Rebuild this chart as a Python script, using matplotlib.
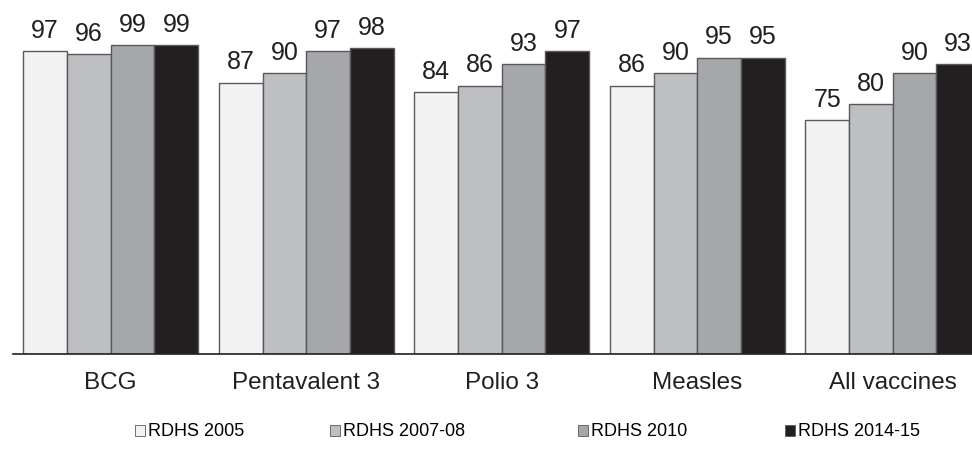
import matplotlib
matplotlib.use("Agg")
import matplotlib.pyplot as plt
import numpy as np
from matplotlib.patches import Patch

categories = ["BCG", "Pentavalent 3", "Polio 3", "Measles", "All vaccines"]
series_names = ["RDHS 2005", "RDHS 2007-08", "RDHS 2010", "RDHS 2014-15"]
rdhs_2005 = [97, 87, 84, 86, 75]
rdhs_2007 = [96, 90, 86, 90, 80]
rdhs_2010 = [99, 97, 93, 95, 90]
rdhs_2014 = [99, 98, 97, 95, 93]
series_values = [rdhs_2005, rdhs_2007, rdhs_2010, rdhs_2014]

colors = ["#F1F2F1", "#BEBFC2", "#A6A7AA", "#231F20"]
edge = "#58595B"
txt = "#231F20"

plt.rcParams['font.family'] = ['Liberation Sans', 'DejaVu Sans']

W, H = 972, 453
fig = plt.figure(figsize=(W / 100, H / 100), dpi=100)
left_px, right_px = 13, 990.5
base_px, top_px = 354, 42
ax = fig.add_axes([left_px / W, (H - base_px) / H, (right_px - left_px) / W, (base_px - top_px) / H])

x = np.arange(len(categories))
bw = 0.2235
for i, (vals, c) in enumerate(zip(series_values, colors)):
    pos = x + (i - 1.5) * bw
    bars = ax.bar(pos, vals, width=bw, color=c, edgecolor=edge, linewidth=1.0, zorder=2)
    for b, v in zip(bars, vals):
        ax.annotate(str(v), (b.get_x() + b.get_width() / 2, v), xytext=(0, 6),
                    textcoords="offset points", ha="center", va="bottom",
                    fontsize=18, color=txt, annotation_clip=False)

ax.set_xlim(-0.5, 4.5)
ax.set_ylim(0, 100)
for s in ["top", "right", "left"]:
    ax.spines[s].set_visible(False)
ax.spines["bottom"].set_color("#231F20")
ax.spines["bottom"].set_linewidth(1.2)
ax.set_yticks([])
ax.set_xticks(x)
ax.set_xticklabels(categories, fontsize=17.5, color=txt)
ax.tick_params(axis="x", length=0, pad=13)

leg_x = [135, 330, 578, 785]
for name, c, lx in zip(series_names, colors, leg_x):
    h = Patch(facecolor=c, edgecolor=edge, linewidth=0.6)
    fig.legend(handles=[h], labels=[name], loc="center left",
               bbox_to_anchor=(lx / W, 1 - 432 / H), frameon=False,
               handlelength=0.55, handleheight=0.55, handletextpad=0.15,
               borderpad=0, borderaxespad=0,
               prop={"family": ["Liberation Sans"], "size": 13})

fig.savefig("out.png", dpi=100)
